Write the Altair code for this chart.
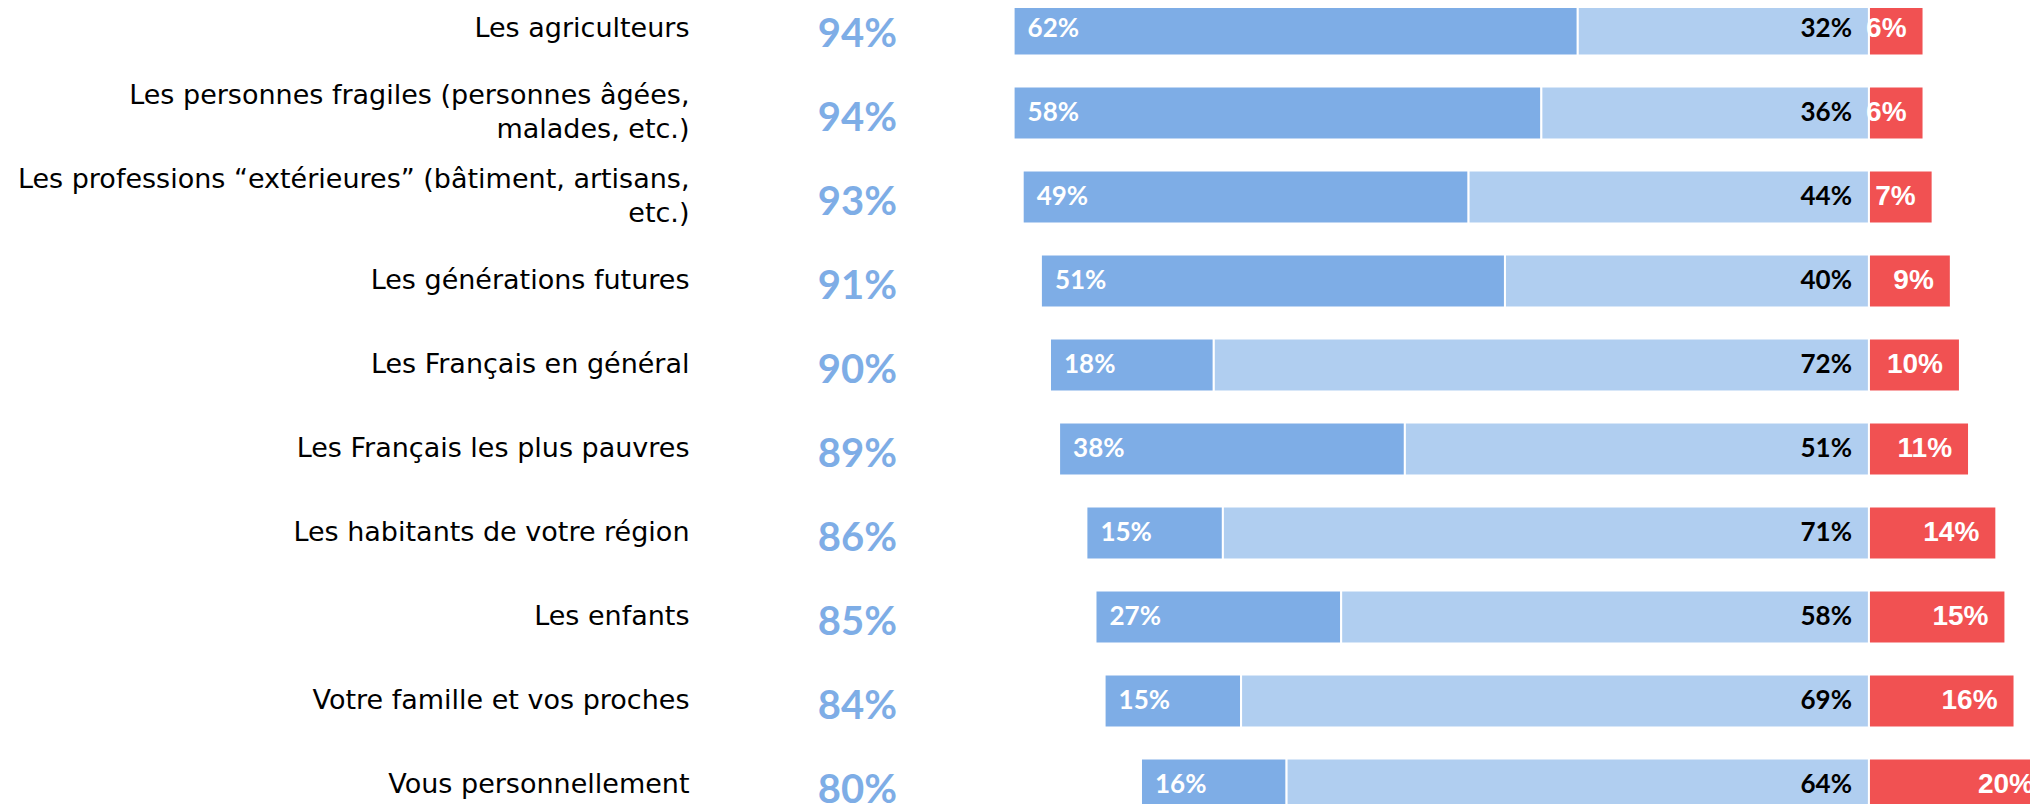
import altair as alt
import pandas as pd

categories = [
    "Les agriculteurs",
    "Les personnes fragiles (personnes âgées,\nmalades, etc.)",
    "Les professions “extérieures” (bâtiment, artisans,\netc.)",
    "Les générations futures",
    "Les Français en général",
    "Les Français les plus pauvres",
    "Les habitants de votre région",
    "Les enfants",
    "Votre famille et vos proches",
    "Vous personnellement",
]
dark = [62, 58, 49, 51, 18, 38, 15, 27, 15, 16]
light = [32, 36, 44, 40, 72, 51, 71, 58, 69, 64]
red = [6, 6, 7, 9, 10, 11, 14, 15, 16, 20]
totals = [94, 94, 93, 91, 90, 89, 86, 85, 84, 80]

DARK = "#7EADE6"
LIGHT = "#B0CEF0"
RED = "#F15152"

df = pd.DataFrame({"cat": categories, "dark": dark, "light": light,
                   "red": red, "total": totals})

base = alt.Chart(df).transform_calculate(
    d0="-(datum.dark + datum.light)",
    d1="-datum.light",
    z="0",
    dl="datum.dark + '%'",
    ll="datum.light + '%'",
    rl="datum.red + '%'",
    tl="datum.total + '%'",
)

xs = alt.Scale(domain=[-100, 17.7], nice=False, zero=False)
ys = alt.Scale(range=[-5.4, 803.5], paddingInner=0.37, paddingOuter=0)

y_enc = alt.Y(
    "cat:N", sort=categories, scale=ys, title=None,
    axis=alt.Axis(
        labelExpr="split(datum.label, '\\n')",
        labelFont="DejaVu Sans", labelFontSize=27, labelColor="#000000",
        labelLimit=1000, labelPadding=270, labelLineHeight=34,
        labelOffset={"condition": {"test": "indexof(datum.value, '\\n') >= 0",
                                   "value": -17}, "value": 0},
        ticks=False, domain=False, grid=False, labelAlign="right",
        labelBaseline="middle", labelOverlap=False,
    ),
)

bar_dark = base.mark_bar(color=DARK, stroke="white", strokeWidth=2).encode(
    x=alt.X("d0:Q", scale=xs, axis=None), x2="d1:Q", y=y_enc)
bar_light = base.mark_bar(color=LIGHT, stroke="white", strokeWidth=2).encode(
    x=alt.X("d1:Q", scale=xs, axis=None), x2="z:Q", y=y_enc)
bar_red = base.mark_bar(color=RED, stroke="white", strokeWidth=2).encode(
    x=alt.X("z:Q", scale=xs, axis=None), x2="red:Q", y=y_enc)

txt_dark = base.mark_text(align="left", baseline="middle", dx=14, font="Lato",
                          fontWeight="bold", fontSize=26, color="white").encode(
    x=alt.X("d0:Q", scale=xs, axis=None), y=y_enc, text="dl:N")
txt_light = base.mark_text(align="right", baseline="middle", dx=-17, font="Lato",
                           fontWeight="bold", fontSize=26, color="black").encode(
    x=alt.X("z:Q", scale=xs, axis=None), y=y_enc, text="ll:N")
txt_red = base.mark_text(align="right", baseline="middle", dx=-17,
                         font="Liberation Sans", fontWeight="bold", fontSize=28,
                         color="white").encode(
    x=alt.X("red:Q", scale=xs, axis=None), y=y_enc, text="rl:N")
txt_total = base.mark_text(align="right", baseline="middle", dy=6, font="Lato",
                           fontWeight="bold", fontSize=40, color=DARK).encode(
    x=alt.value(-62), y=y_enc, text="tl:N")

chart = alt.layer(bar_dark, bar_light, bar_red, txt_dark, txt_light, txt_red,
                  txt_total).properties(
    width=1071, height=796,
    padding={"left": 951, "top": 0, "right": 0, "bottom": 0},
    autosize=alt.AutoSizeParams(type="none"),
    background="white",
).configure_view(stroke=None)

chart.save("out.html", embed_options={"renderer": "svg", "actions": False})
